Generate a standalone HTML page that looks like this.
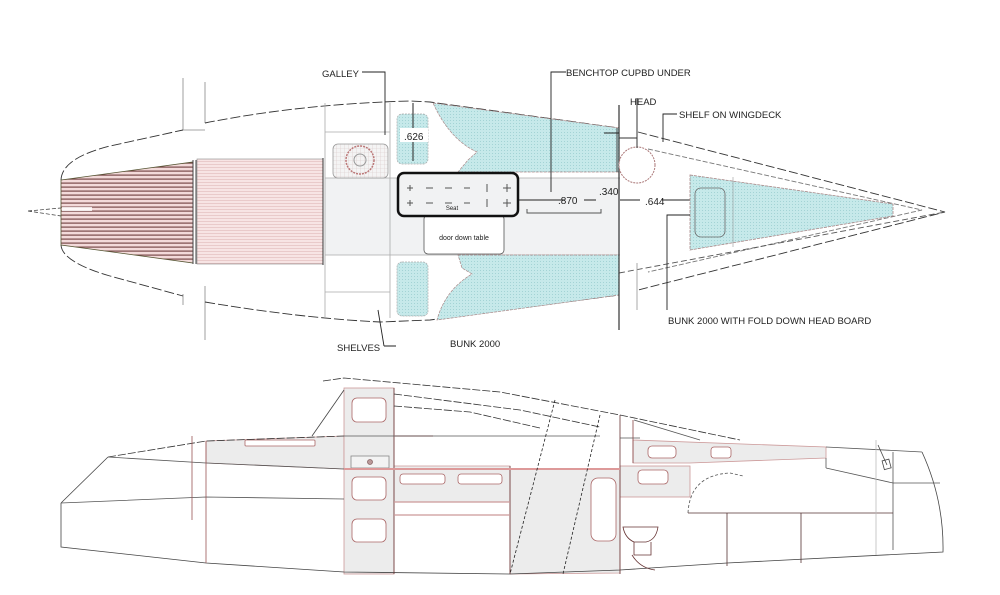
<!DOCTYPE html>
<html><head><meta charset="utf-8"><style>
html,body{margin:0;padding:0;background:#fff;}
svg{display:block;}
text{font-family:"Liberation Sans",sans-serif;fill:#222;}
</style></head><body>
<svg width="1000" height="595" viewBox="0 0 1000 595" xmlns="http://www.w3.org/2000/svg">
<defs>
<pattern id="str" width="4" height="4" patternUnits="userSpaceOnUse"><rect width="4" height="4" fill="#f3dada"/><rect y="2.5" width="4" height="1.2" fill="#7a4a4a"/></pattern>
<pattern id="str2" width="4" height="3" patternUnits="userSpaceOnUse"><rect width="4" height="3" fill="#f7e4e4"/><rect y="2" width="4" height="0.6" fill="#e0b8b8"/></pattern>
<pattern id="cy" width="3" height="3" patternUnits="userSpaceOnUse"><rect width="3" height="3" fill="#c6e9ea"/><rect width="1" height="1" fill="#a3d3d5"/></pattern>
<pattern id="grid" width="4" height="4" patternUnits="userSpaceOnUse"><rect width="4" height="4" fill="#f4f4f4"/><path d="M0 0H4M0 0V4" stroke="#d8c8c8" stroke-width="0.6"/></pattern>
</defs>

<!-- ===== PLAN VIEW ===== -->
<g fill="none" stroke="#333" stroke-width="0.9">
<path d="M183 78V130M205 82V123M183 130H205" stroke="#888" stroke-width="0.8"/>
<path d="M183 294V305M205 286V340" stroke="#888" stroke-width="0.8"/>
<path d="M61 180 Q62 158 110 146 L183 130 M205 123 Q300 104 410 101 L430 102 L619 128" stroke-dasharray="10 3"/>
<path d="M61 245 Q62 262 110 276 L183 296 M205 302 Q300 318 380 322 L430 320 L619 295" stroke-dasharray="10 3"/>
<path d="M28 211 L61 208 M28 211 L61 216" stroke-width="0.7" stroke-dasharray="4 2"/>
<path d="M638 132 L945 212 L638 290" stroke-dasharray="9 3"/>
<path d="M648 149 L922 210 L648 272" stroke-dasharray="5 2" stroke="#777"/>
<path d="M619 273 L945 212" stroke-dasharray="6 3" stroke="#555"/>
</g>
<polygon points="61,180 193,162 193,263 61,245" fill="url(#str)" stroke="#553" stroke-width="0.8"/>
<rect x="62" y="207" width="30" height="4" fill="#fff" opacity="0.8"/>
<rect x="197" y="159" width="126" height="105" fill="url(#str2)" stroke="#888" stroke-width="0.6"/>
<path d="M193 160V264M196 160V264" stroke="#444" stroke-width="1"/>
<path d="M323 158V265" stroke="#333"/>
<rect x="325" y="178" width="295" height="77" fill="#f1f2f3"/>
<path d="M325 103V318M325 132H390M325 178H620M325 255H620M325 292H390M390 103V318" stroke="#aaa" stroke-width="0.8" fill="none"/>
<rect x="333" y="144" width="55" height="34" rx="5" fill="url(#grid)" stroke="#999" stroke-width="0.8"/>
<circle cx="360" cy="160" r="14" fill="none" stroke="#b77" stroke-width="1.5" stroke-dasharray="2 1"/>
<circle cx="360" cy="160" r="6" fill="none" stroke="#999"/>
<rect x="397" y="114" width="31" height="50" rx="5" fill="url(#cy)" stroke="#aaa" stroke-dasharray="2 1" stroke-width="0.7"/>
<rect x="397" y="262" width="31" height="54" rx="5" fill="url(#cy)" stroke="#aaa" stroke-dasharray="2 1" stroke-width="0.7"/>
<path d="M433 103 L619 128 L619 172 L458 172 L468 160 L477 152 Q450 140 433 103Z" fill="url(#cy)" stroke="#a88" stroke-width="0.7" stroke-dasharray="3 1"/>
<path d="M458 255 L619 255 L619 295 L437 320 Q445 290 472 274 L462 268Z" fill="url(#cy)" stroke="#a88" stroke-width="0.7" stroke-dasharray="3 1"/>
<path d="M619 105V330" stroke="#333" stroke-width="1.2"/>
<path d="M617 128V172" stroke="#444"/>
<rect x="424" y="215" width="80" height="39" rx="4" fill="#fff" stroke="#555" stroke-width="0.8"/>
<text x="464" y="240" font-size="7" text-anchor="middle" fill="#555">door down table</text>
<rect x="398" y="173" width="120" height="43" rx="6" fill="#f1f2f3" stroke="#111" stroke-width="2.5"/>
<g stroke="#555" stroke-width="1">
<path d="M407 188H413M410 185V191M426 188H433M445 188H452M464 188H470M487 184V192M503 188H511M507 184V192"/>
<path d="M407 203H413M410 200V206M426 203H433M445 203H452M464 203H470M487 199V207M503 203H511M507 199V207"/>
</g>
<text x="452" y="210" font-size="6" text-anchor="middle" fill="#666">Seat</text>
<g stroke="#222" stroke-width="1" fill="none">
<path d="M413 103V161M519 200H565M584 200H596M620 200H640M662 200H690"/>
<path d="M527 209V213H601V209" stroke="#555"/>
<path d="M619 157 V172M619 210V255" stroke="#333"/>
<path d="M604 133H619" />
</g>
<rect x="400" y="128" width="28" height="14" fill="#fff"/>
<text x="404" y="140" font-size="10">.626</text>
<text x="558" y="204" font-size="10">.870</text>
<text x="599" y="195" font-size="10">.340</text>
<text x="645" y="205" font-size="10">.644</text>
<circle cx="637" cy="165" r="18" fill="#fff" stroke="#a77" stroke-width="1" stroke-dasharray="2 1"/>
<path d="M619 138H637M637 98V148" stroke="#333" fill="none"/>
<path d="M637 263V310" stroke="#aaa"/>
<polygon points="690,175 893,204 893,216 690,250" fill="url(#cy)" stroke="#a88" stroke-width="0.8" stroke-dasharray="3 1"/>
<rect x="695" y="188" width="30" height="49" rx="6" fill="none" stroke="#666" stroke-width="0.8"/>
<path d="M733 177V247" stroke="#999" stroke-width="0.6"/>
<g stroke="#222" stroke-width="0.9" fill="none">
<path d="M362 72H385V135"/>
<path d="M566 72H551V192"/>
<path d="M677 114H663V142"/>
<path d="M690 215H667V310"/>
<path d="M384 346H396M384 346L378 310"/>
</g>
<text x="322" y="77" font-size="9.5">GALLEY</text>
<text x="566" y="76" font-size="9.5">BENCHTOP CUPBD UNDER</text>
<text x="630" y="105" font-size="9.5">HEAD</text>
<text x="679" y="118" font-size="9.5">SHELF ON WINGDECK</text>
<text x="668" y="324" font-size="9.5">BUNK 2000 WITH FOLD DOWN HEAD BOARD</text>
<text x="337" y="351" font-size="9.5">SHELVES</text>
<text x="450" y="347" font-size="9.5">BUNK 2000</text>

<!-- ===== PROFILE VIEW ===== -->
<g stroke-width="0.8" fill="none">
<polygon points="206,441 344,436 344,469 206,463" fill="#ececec" stroke="#c99"/>
<rect x="344" y="388" width="50" height="186" fill="#ececec" stroke="#c99"/>
<polygon points="394,466 510,466 510,502 394,502" fill="#ececec" stroke="#c99"/>
<polygon points="510,469 620,469 620,573 510,574" fill="#ececec" stroke="#c99"/>
<polygon points="633,440 826,447 826,458 690,463 633,463" fill="#ececec" stroke="#c99"/>
<rect x="620" y="466" width="70" height="31" fill="#ececec" stroke="#c99"/>
<g stroke="#a66" fill="#fff">
<rect x="352" y="398" width="34" height="24" rx="5"/>
<rect x="352" y="477" width="34" height="23" rx="5"/>
<rect x="352" y="519" width="34" height="23" rx="5"/>
<rect x="400" y="474" width="45" height="10" rx="3"/>
<rect x="458" y="474" width="44" height="10" rx="3"/>
<rect x="591" y="478" width="25" height="63" rx="7"/>
<rect x="648" y="446" width="28" height="12" rx="4"/>
<rect x="711" y="447" width="20" height="11" rx="3"/>
<rect x="638" y="470" width="30" height="14" rx="4"/>
<rect x="245" y="440" width="70" height="6" rx="1"/>
</g>
<rect x="351" y="456" width="38" height="12" fill="#f3f3f3" stroke="#888"/>
<circle cx="370" cy="462" r="2.5" fill="#b99" stroke="#866"/>
<path d="M61 503V547L206 563L344 572L510 574L620 570L727 563L943 552Q944 500 922 452" stroke="#444"/>
<path d="M61 503L108 457" stroke="#444"/>
<path d="M108 457L206 441L344 436" stroke="#333" stroke-dasharray="8 2"/>
<path d="M108 457L206 463L344 469" stroke="#555"/>
<path d="M61 503L206 497L344 499" stroke="#555"/>
<path d="M206 441V563M192 436V520" stroke="#955"/>
<path d="M394 388V574M510 466V574M620 415V574" stroke="#633"/>
<path d="M344 469H620" stroke="#d99" stroke-width="2"/>
<path d="M394 436H433M394 502H510M394 515H510" stroke="#c99" stroke-width="1.2"/>
<path d="M323 381L344 378L500 392L620 415L740 440" stroke="#333" stroke-dasharray="8 2"/>
<path d="M394 394L520 410L600 427" stroke="#333" stroke-dasharray="8 2"/>
<path d="M394 406L470 412L540 428" stroke="#333" stroke-dasharray="8 2"/>
<path d="M312 436L344 390" stroke="#444"/>
<path d="M634 420L700 440M620 438H640M344 436H600" stroke="#555"/>
<path d="M555 400L510 574M600 415L563 574" stroke="#222" stroke-dasharray="3 2"/>
<path d="M633 420V463" stroke="#844"/>
<path d="M826 447L922 452M826 468L893 483M893 452V550M893 483L940 483M826 458V468" stroke="#555"/>
<path d="M688 513Q690 475 730 473L743 476" stroke="#555" stroke-dasharray="3 2"/>
<path d="M688 513H893M727 513V566M801 513V563" stroke="#533"/>
<path d="M876 440V555" stroke="#bbb"/>
<path d="M878 445L887 465" stroke="#444"/>
<rect x="883" y="460" width="7" height="9" stroke="#444" transform="rotate(-15 886 464)"/>
<path d="M623 527H658Q656 540 646 542H634Q625 538 623 527Z" stroke="#633" fill="#fff"/>
<path d="M634 542V555H651V542M632 555Q640 568 655 570" stroke="#633"/>
</g>
</svg>
</body></html>
